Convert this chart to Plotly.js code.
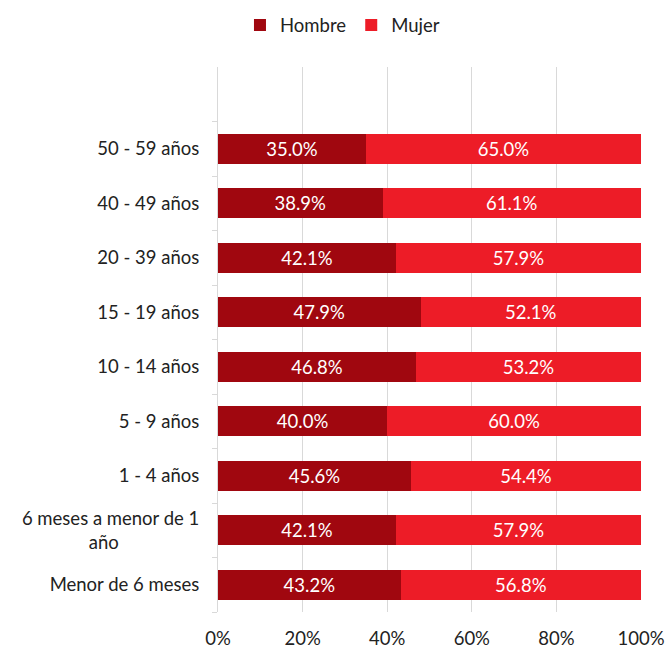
<!DOCTYPE html>
<html>
<head>
<meta charset="utf-8">
<script src="https://cdn.plot.ly/plotly-3.0.1.min.js"></script>
<style>html,body{margin:0;padding:0;background:#fff;}#chart{width:665px;height:648px;}</style>
</head>
<body>
<div id="chart"></div>
<script>
// Categories from bottom to top
const categories = [
  "Menor de 6 meses",
  "6 meses a menor de 1<br>año" + "\u00A0".repeat(17),
  "1 - 4 años",
  "5 - 9 años",
  "10 - 14 años",
  "15 - 19 años",
  "20 - 39 años",
  "40 - 49 años",
  "50 - 59 años"
];
const hombre = [43.2, 42.1, 45.6, 40.0, 46.8, 47.9, 42.1, 38.9, 35.0];
const mujer  = [56.8, 57.9, 54.4, 60.0, 53.2, 52.1, 57.9, 61.1, 65.0];
const xTicks = [0, 20, 40, 60, 80, 100];
const xTickText = xTicks.map(v => v + "%");

const FONT = "Lato, 'Open Sans', sans-serif";
const common = {
  type: "bar",
  orientation: "h",
  y: categories,
  texttemplate: "%{x:.1f}%",
  textposition: "inside",
  insidetextanchor: "middle",
  textfont: {family: FONT, size: 18.5, color: "#ffffff"},
  hoverinfo: "skip"
};
const data = [
  Object.assign({}, common, {name: "Hombre", x: hombre, marker: {color: "#A0070F"}}),
  Object.assign({}, common, {name: "Mujer", x: mujer, marker: {color: "#ED1C27"}})
];
const layout = {
  width: 665, height: 648,
  barmode: "stack",
  bargap: 0.45,
  margin: {l: 218, r: 24, t: 67, b: 36},
  paper_bgcolor: "#ffffff",
  plot_bgcolor: "#ffffff",
  font: {family: FONT, size: 18.5, color: "#222222"},
  showlegend: true,
  legend: {
    orientation: "h", xref: "container", yref: "container",
    x: 0.515, xanchor: "center", y: 0.99, yanchor: "top",
    font: {family: FONT, size: 18.5, color: "#222222"},
    traceorder: "normal", itemwidth: 30
  },
  xaxis: {
    range: [0, 100], tickmode: "array", tickvals: xTicks, ticktext: xTickText,
    showgrid: true, gridcolor: "#d9d9d9", gridwidth: 1,
    zeroline: false, showline: false, ticks: "",
    ticklabelstandoff: 13,
    fixedrange: true
  },
  yaxis: {
    type: "category", categoryorder: "array", categoryarray: categories,
    range: [-0.5, 9.5],
    showline: true, linecolor: "#d9d9d9", linewidth: 1,
    ticks: "outside", tickson: "boundaries", ticklen: 5, tickcolor: "#d9d9d9",
    ticklabelstandoff: 14,
    showgrid: false, zeroline: false, fixedrange: true
  }
};
Plotly.newPlot("chart", data, layout, {displayModeBar: false, staticPlot: true});
</script>
</body>
</html>
